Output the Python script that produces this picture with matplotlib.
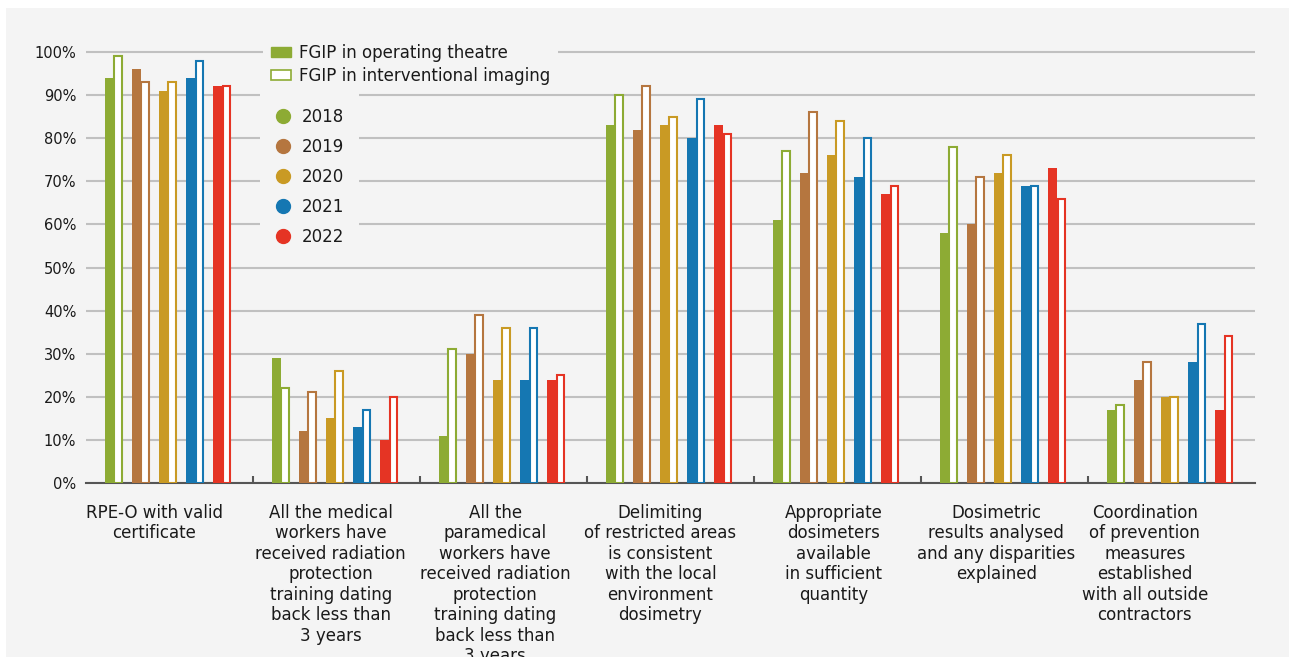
import numpy as np
import matplotlib
matplotlib.use("Agg")
import matplotlib.pyplot as plt
from matplotlib.patches import Patch, Rectangle
from matplotlib.lines import Line2D

# categories (x axis)
categories = [
    "RPE-O with valid\ncertificate",
    "All the medical\nworkers have\nreceived radiation\nprotection\ntraining dating\nback less than\n3 years",
    "All the\nparamedical\nworkers have\nreceived radiation\nprotection\ntraining dating\nback less than\n3 years",
    "Delimiting\nof restricted areas\nis consistent\nwith the local\nenvironment\ndosimetry",
    "Appropriate\ndosimeters\navailable\nin sufficient\nquantity",
    "Dosimetric\nresults analysed\nand any disparities\nexplained",
    "Coordination\nof prevention\nmeasures\nestablished\nwith all outside\ncontractors",
]
years = ["2018", "2019", "2020", "2021", "2022"]

# FGIP in operating theatre (%), one list per year
theatre_2018 = [94, 29, 11, 83, 61, 58, 17]
theatre_2019 = [96, 12, 30, 82, 72, 60, 24]
theatre_2020 = [91, 15, 24, 83, 76, 72, 20]
theatre_2021 = [94, 13, 24, 80, 71, 69, 28]
theatre_2022 = [92, 10, 24, 83, 67, 73, 17]

# FGIP in interventional imaging (%)
imaging_2018 = [99, 22, 31, 90, 77, 78, 18]
imaging_2019 = [93, 21, 39, 92, 86, 71, 28]
imaging_2020 = [93, 26, 36, 85, 84, 76, 20]
imaging_2021 = [98, 17, 36, 89, 80, 69, 37]
imaging_2022 = [92, 20, 25, 81, 69, 66, 34]

theatre = [theatre_2018, theatre_2019, theatre_2020, theatre_2021, theatre_2022]
imaging = [imaging_2018, imaging_2019, imaging_2020, imaging_2021, imaging_2022]

colors = ["#8dab34", "#b5763f", "#c99a24", "#1577b2", "#e53424"]
bg = "#f4f4f4"
text_color = "#1a1a1a"

plt.rcParams['font.family'] = ['DejaVu Sans']

fig = plt.figure(figsize=(12.89, 6.57), dpi=100, facecolor="white")
fig.patches.append(Rectangle((6 / 1289, 0), 1, 1 - 8 / 657, transform=fig.transFigure,
                             facecolor=bg, edgecolor="none", zorder=-10))

ax = fig.add_axes([86 / 1289, 174 / 657, 1169 / 1289, (613.6 - 174) / 657])
ax.set_facecolor("none")

x = np.arange(len(categories))
pair_pitch = 0.162
bar_w = 0.051

for i in range(len(years)):
    centre = x + (i - 2) * pair_pitch - 0.01
    ax.bar(centre - bar_w / 2, theatre[i], width=bar_w, color=colors[i], zorder=3)
    ax.bar(centre + bar_w / 2, imaging[i], width=bar_w * 0.85, color="white",
           edgecolor=colors[i], linewidth=1.5, zorder=3)

ax.set_xlim(-0.5, len(categories) - 0.5)
ax.set_ylim(0, 102)
ax.set_yticks(np.arange(0, 101, 10))
ax.set_yticklabels([f"{v}%" for v in range(0, 101, 10)])
ax.tick_params(axis="y", length=0, pad=7, labelsize=10.5, labelcolor=text_color)

# category labels sit slightly left of the bar groups, as in the original
label_shift = np.array([-0.09, -0.035, -0.05, -0.06, -0.025, -0.05, -0.16])
ax.set_xticks(x + label_shift)
ax.set_xticklabels(categories, fontsize=12, color=text_color, linespacing=1.18)
ax.tick_params(axis="x", which="major", length=0, pad=15)
ax.set_xticks(np.arange(0.5, len(categories) - 0.5, 1), minor=True)
ax.tick_params(axis="x", which="minor", direction="in", length=5, width=1.5, color="#555555")

ax.yaxis.grid(True, color="#c0c0c0", linewidth=1.5)
ax.set_axisbelow(True)
for side in ["left", "right", "top"]:
    ax.spines[side].set_visible(False)
ax.spines["bottom"].set_color("#555555")
ax.spines["bottom"].set_linewidth(1.5)

# legend: type of FGIP
type_handles = [Patch(facecolor=colors[0], edgecolor=colors[0]),
                Patch(facecolor="white", edgecolor=colors[0], linewidth=1.2)]
leg1 = ax.legend(type_handles, ["FGIP in operating theatre", "FGIP in interventional imaging"],
                 loc="upper left", bbox_to_anchor=(263 / 1289, 1 - 36 / 657),
                 bbox_transform=fig.transFigure, borderaxespad=0, borderpad=0.45,
                 handlelength=1.25, handleheight=0.55, handletextpad=0.45, labelspacing=0.35,
                 fontsize=12, frameon=True, facecolor=bg, edgecolor="none",
                 framealpha=1, fancybox=False, labelcolor=text_color)
ax.add_artist(leg1)

# legend: years
year_handles = [Line2D([], [], marker="o", linestyle="none", markersize=10,
                       markerfacecolor=c, markeredgecolor=c) for c in colors]
ax.legend(year_handles, years, loc="upper left",
          bbox_to_anchor=(260 / 1289, 1 - 93 / 657), bbox_transform=fig.transFigure,
          borderaxespad=0, borderpad=0.9, handlelength=1.0, handletextpad=0.6,
          labelspacing=0.72, fontsize=12, frameon=True, facecolor=bg, edgecolor="none",
          framealpha=1, fancybox=False, labelcolor=text_color)

fig.savefig("out.png", dpi=100, facecolor=fig.get_facecolor())
